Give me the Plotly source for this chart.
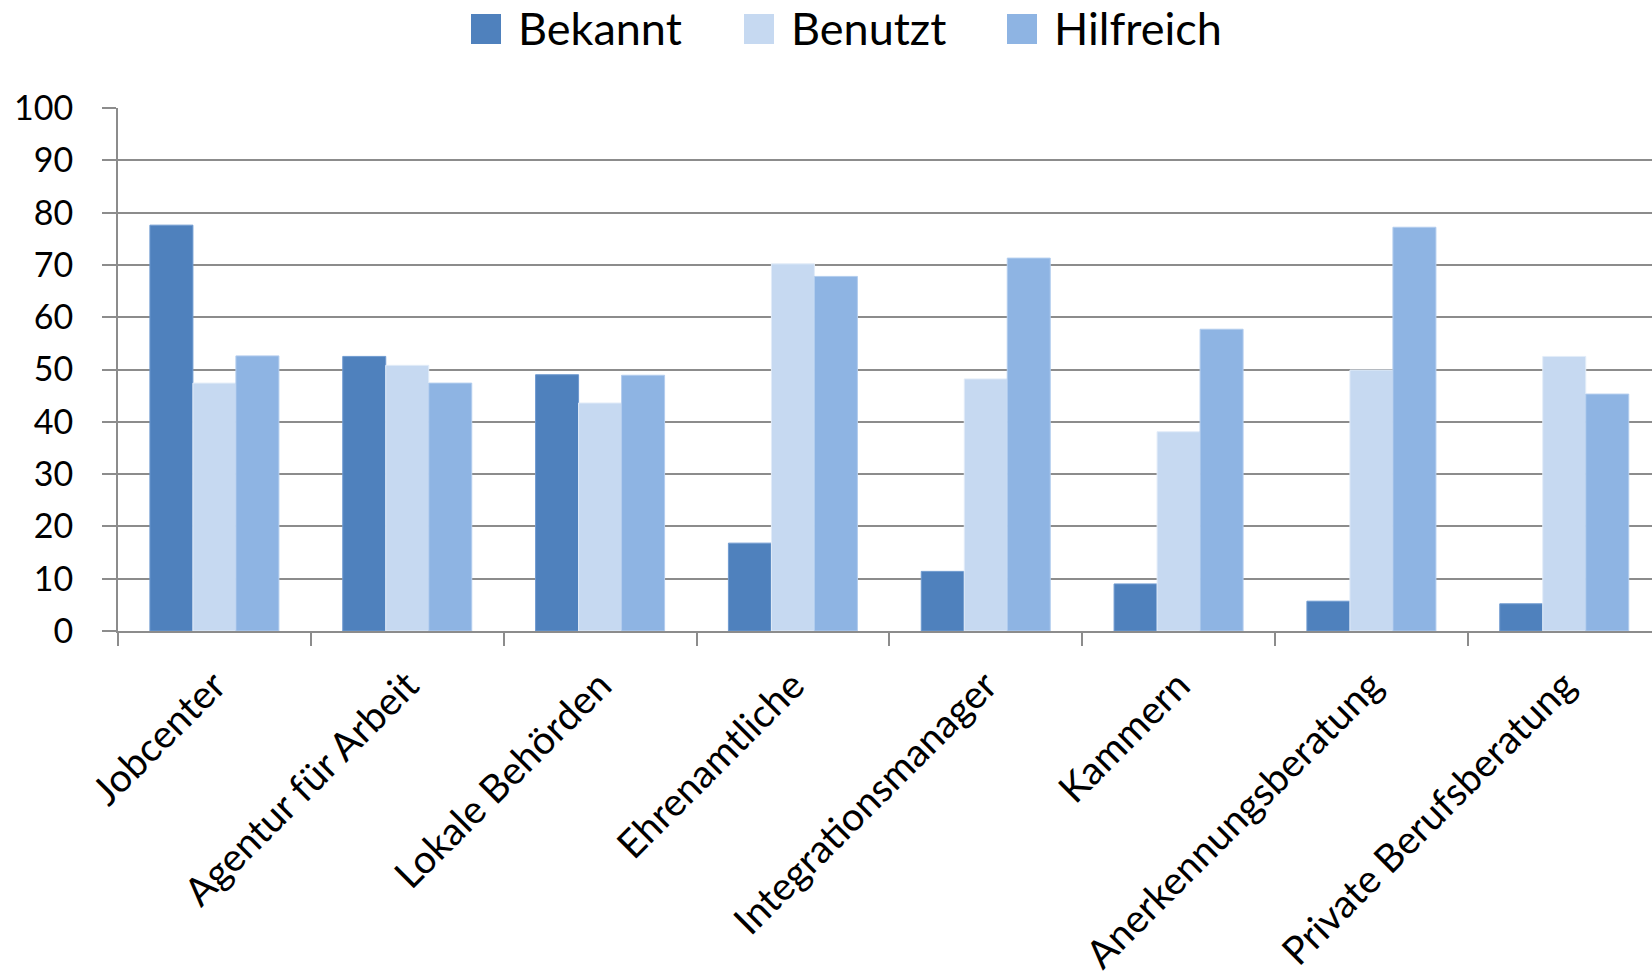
import plotly.graph_objects as go

categories = ["Jobcenter", "Agentur für Arbeit", "Lokale Behörden", "Ehrenamtliche",
              "Integrationsmanager", "Kammern", "Anerkennungsberatung", "Private Berufsberatung"]
series_names = ["Bekannt", "Benutzt", "Hilfreich"]
bekannt = [77.6, 52.5, 49.0, 16.8, 11.4, 9.0, 5.7, 5.2]
benutzt = [47.4, 50.8, 43.6, 70.2, 48.2, 38.1, 49.9, 52.5]
hilfreich = [52.6, 47.4, 48.9, 67.8, 71.3, 57.7, 77.2, 45.3]
y_ticks = [0, 10, 20, 30, 40, 50, 60, 70, 80, 90, 100]

colors = ["#4F81BD", "#C6D9F1", "#8EB4E3"]
edge_colors = ["#6F9AD0", "#E2ECF8", "#B3CDEE"]
values = [bekannt, benutzt, hilfreich]

W, H = 1652, 975
L, R, T, B = 118, 0, 108, 344
FONT = "Lato"

fig = go.Figure()
for name, vals, c, ec in zip(series_names, values, colors, edge_colors):
    fig.add_trace(go.Bar(
        x=categories, y=vals, name=name,
        marker=dict(color=c, line=dict(color=ec, width=1)),
        showlegend=False,
    ))

# manual legend (large squares as in reference)
pw = W - L - R
ph = H - T - B
def px_x(p):
    return (p - L) / pw
def px_y(p):
    return (H - B - p) / ph

sq_left = [471, 744, 1007]
txt_left = [516, 789, 1052]
shapes = []
annotations = []
for name, c, sx, tx in zip(series_names, colors, sq_left, txt_left):
    shapes.append(dict(type="rect", xref="paper", yref="paper",
                       x0=px_x(sx), x1=px_x(sx + 30), y0=px_y(44), y1=px_y(14),
                       fillcolor=c, line=dict(width=0)))
    annotations.append(dict(text=name, xref="paper", yref="paper",
                            x=px_x(tx), y=px_y(28), xanchor="left", yanchor="middle",
                            showarrow=False, font=dict(family=FONT, size=45, color="#000000")))

fig.update_layout(
    width=W, height=H,
    margin=dict(l=L, r=R, t=T, b=B, pad=0),
    paper_bgcolor="white", plot_bgcolor="white",
    barmode="group", bargap=0.331, bargroupgap=0,
    font=dict(family=FONT, size=34, color="#000000"),
    shapes=shapes, annotations=annotations,
    showlegend=False,
)
fig.update_xaxes(
    type="category", range=[-0.5, 7.455],
    tickangle=-45, tickson="boundaries",
    ticks="outside", ticklen=13, tickwidth=2, tickcolor="#8C8C8C",
    showline=True, linecolor="#8C8C8C", linewidth=2,
    showgrid=False, automargin=False,
    ticklabelstandoff=14,
    tickfont=dict(family=FONT, size=39, color="#000000"),
)
fig.update_yaxes(
    range=[0, 100], tickvals=y_ticks, ticktext=[str(v) for v in y_ticks],
    ticks="outside", ticklen=14, tickwidth=2, tickcolor="#8C8C8C",
    showline=True, linecolor="#8C8C8C", linewidth=2,
    showgrid=True, gridcolor="#8C8C8C", gridwidth=1.5,
    zeroline=False, automargin=False,
    ticklabelstandoff=22,
    tickfont=dict(family=FONT, size=34, color="#000000"),
)

fig.write_html("out.html")
